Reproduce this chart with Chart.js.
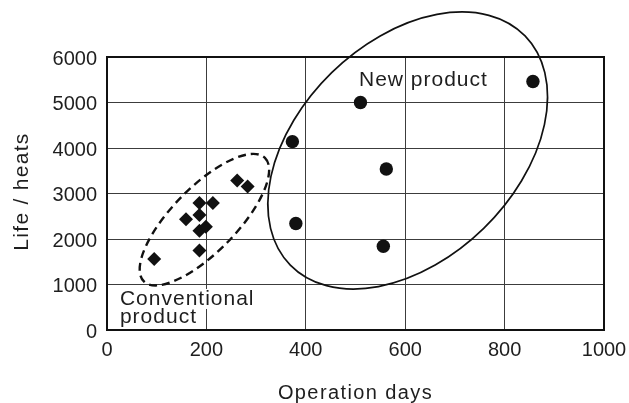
<!DOCTYPE html>
<html>
<head>
<meta charset="utf-8">
<script src="https://cdn.jsdelivr.net/npm/chart.js@4/dist/chart.umd.min.js"></script>
<style>
  html, body { margin: 0; padding: 0; background: #ffffff; }
  #wrap { width: 629px; height: 403px; }
</style>
</head>
<body>
<div id="wrap"><canvas id="chart" width="629" height="403"></canvas></div>
<script>
// Conventional product: operation days vs. life (heats)
const conventionalDays = [95, 186, 186, 199, 159, 186, 186, 213, 262, 283];
const conventionalLife = [1560, 1745, 2180, 2270, 2435, 2530, 2790, 2790, 3285, 3155];

// New product: operation days vs. life (heats)
const newDays = [510, 373, 562, 380, 556, 857];
const newLife = [5000, 4140, 3540, 2340, 1840, 5460];

// Axis tick values
const xTickValues = [0, 200, 400, 600, 800, 1000];
const yTickValues = [0, 1000, 2000, 3000, 4000, 5000, 6000];

// Axis titles
const xTitle = 'Operation days';
const yTitle = 'Life / heats';

const FONT = '"Liberation Sans", Arial, sans-serif';
const INK = '#1e1e1e';

function toPoints(xs, ys) {
  return xs.map((x, i) => ({ x: x, y: ys[i] }));
}

// Group outlines (centre in data units, semi-axes in days along the x scale, tilt in degrees)
const groupOutlines = [
  { cx: 605, cy: 3945, a: 330, b: 219, tilt: -44.3, dash: [], width: 1.7 },
  { cx: 196, cy: 2425, a: 174, b: 65, tilt: -45.6, dash: [8, 5], width: 2.4 }
];

// Group captions (left edge and first baseline in data units)
const groupCaptions = [
  { lines: ['New product'], x: 507, y: 5368, backdrop: false },
  { lines: ['Conventional', 'product'], x: 26, y: 550, backdrop: true }
];

function spacedText(ctx, size, spacing) {
  ctx.font = size + 'px ' + FONT;
  ctx.letterSpacing = spacing + 'px';
  ctx.fillStyle = INK;
}

const frameAndNotes = {
  id: 'frameAndNotes',
  beforeDatasetsDraw(chart) {
    const { ctx, chartArea: area, scales: { x, y } } = chart;
    const pxPerDay = x.getPixelForValue(1) - x.getPixelForValue(0);

    // plot frame
    ctx.save();
    ctx.strokeStyle = '#111';
    ctx.lineWidth = 2;
    ctx.strokeRect(area.left, area.top, area.right - area.left, area.bottom - area.top);
    ctx.restore();

    // outlines around each product group
    groupOutlines.forEach(o => {
      ctx.save();
      ctx.beginPath();
      ctx.ellipse(x.getPixelForValue(o.cx), y.getPixelForValue(o.cy),
        o.a * pxPerDay, o.b * pxPerDay, o.tilt * Math.PI / 180, 0, Math.PI * 2);
      ctx.setLineDash(o.dash);
      ctx.lineWidth = o.width;
      ctx.strokeStyle = '#111';
      ctx.stroke();
      ctx.restore();
    });

    // captions
    groupCaptions.forEach(c => {
      ctx.save();
      spacedText(ctx, 21, 1.0);
      ctx.textAlign = 'left';
      ctx.textBaseline = 'alphabetic';
      const left = x.getPixelForValue(c.x);
      let base = y.getPixelForValue(c.y);
      c.lines.forEach((line, i) => {
        if (c.backdrop && i === 0) {
          const w = ctx.measureText(line).width;
          ctx.fillStyle = '#ffffff';
          ctx.fillRect(left - 1, base - 16, w + 2, 20);
          ctx.fillStyle = INK;
        }
        ctx.fillText(line, left, base);
        base += 18.5;
      });
      ctx.restore();
    });
  },
  afterDraw(chart) {
    const { ctx, chartArea: area } = chart;
    ctx.save();
    spacedText(ctx, 20, 1.4);
    ctx.textAlign = 'center';
    ctx.textBaseline = 'alphabetic';
    ctx.fillText(xTitle, (area.left + area.right) / 2, 399);
    ctx.restore();

    ctx.save();
    spacedText(ctx, 21, 1.3);
    ctx.translate(28, (area.top + area.bottom) / 2 - 2);
    ctx.rotate(-Math.PI / 2);
    ctx.textAlign = 'center';
    ctx.textBaseline = 'alphabetic';
    ctx.fillText(yTitle, 0, 0);
    ctx.restore();
  }
};

new Chart(document.getElementById('chart'), {
  type: 'scatter',
  data: {
    datasets: [
      {
        label: 'Conventional product',
        data: toPoints(conventionalDays, conventionalLife),
        pointStyle: 'rectRot',
        pointRadius: 7,
        pointHoverRadius: 7,
        backgroundColor: '#111',
        borderColor: '#111',
        borderWidth: 0
      },
      {
        label: 'New product',
        data: toPoints(newDays, newLife),
        pointStyle: 'circle',
        pointRadius: 6.7,
        pointHoverRadius: 6.7,
        backgroundColor: '#111',
        borderColor: '#111',
        borderWidth: 0
      }
    ]
  },
  options: {
    responsive: false,
    devicePixelRatio: 1,
    animation: false,
    events: [],
    layout: { padding: { top: 57, right: 25, left: 0, bottom: 0 } },
    plugins: {
      legend: { display: false },
      tooltip: { enabled: false }
    },
    scales: {
      x: {
        type: 'linear',
        min: 0,
        max: 1000,
        afterFit(scale) {
          scale.height = 73;
          scale.paddingLeft = 0;
          scale.paddingRight = 0;
        },
        afterBuildTicks(scale) { scale.ticks = xTickValues.map(v => ({ value: v })); },
        border: { display: false },
        grid: { color: '#3c3c3c', lineWidth: 1, drawTicks: false },
        ticks: {
          color: INK,
          padding: 8,
          font: { family: FONT, size: 20 },
          callback: v => String(v)
        }
      },
      y: {
        type: 'linear',
        min: 0,
        max: 6000,
        afterFit(scale) {
          scale.width = 107;
          scale.paddingTop = 0;
          scale.paddingBottom = 0;
        },
        afterBuildTicks(scale) { scale.ticks = yTickValues.map(v => ({ value: v })); },
        border: { display: false },
        grid: { color: '#3c3c3c', lineWidth: 1, drawTicks: false },
        ticks: {
          color: INK,
          padding: 10,
          labelOffset: 2,
          font: { family: FONT, size: 20 },
          callback: v => String(v)
        }
      }
    }
  },
  plugins: [frameAndNotes]
});
</script>
</body>
</html>
